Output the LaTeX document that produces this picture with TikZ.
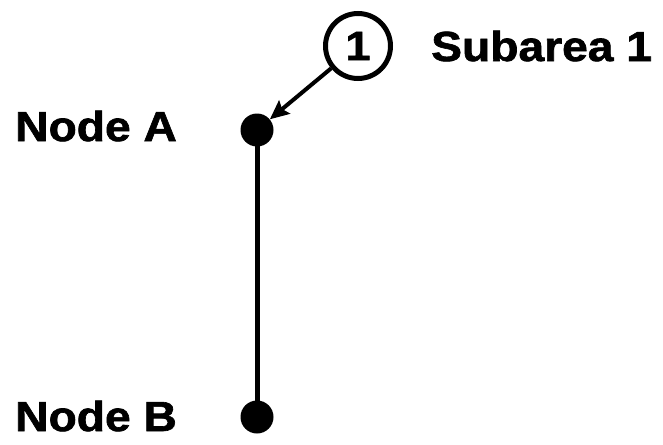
\documentclass[tikz,border=0pt]{standalone}
\usepackage{fontspec}
\setmainfont{Liberation Sans}
\newfontfamily\labelfont[FakeStretch=1.1,FakeBold=1.5]{Liberation Sans Bold}
\usetikzlibrary{arrows.meta}
\begin{document}
\begin{tikzpicture}[x=1pt,y=-1pt,
  lbl/.style={anchor=west,inner sep=0pt,font=\labelfont\fontsize{42}{42}\selectfont},
  junction/.style={circle,fill=black,inner sep=0pt,minimum size=33pt},
  tag/.style={circle,draw=black,line width=5pt,inner sep=0pt,minimum size=65pt,
    font=\labelfont\fontsize{41}{41}\selectfont},
  pipe/.style={line width=5pt},
  pointer/.style={line width=4pt,-{Stealth[length=19pt,width=17pt,inset=3pt]}}]
  \useasboundingbox (0,0) rectangle (663,444);

  % junctions and the reach between them
  \node[junction] (A) at (257,130) {};
  \node[junction] (B) at (257,417) {};
  \draw[pipe] (A.center) -- (B.center);

  % labels
  \node[lbl] (la) at (15,126) {Node A};
  \node[lbl] (lb) at (15,416) {Node B};

  % subarea marker
  \node[tag] (s1) at (358,46) {1};
  \node[lbl] (ls) at (431,46) {Subarea 1};
  \draw[pointer] (s1) -- (A);
\end{tikzpicture}
\end{document}
